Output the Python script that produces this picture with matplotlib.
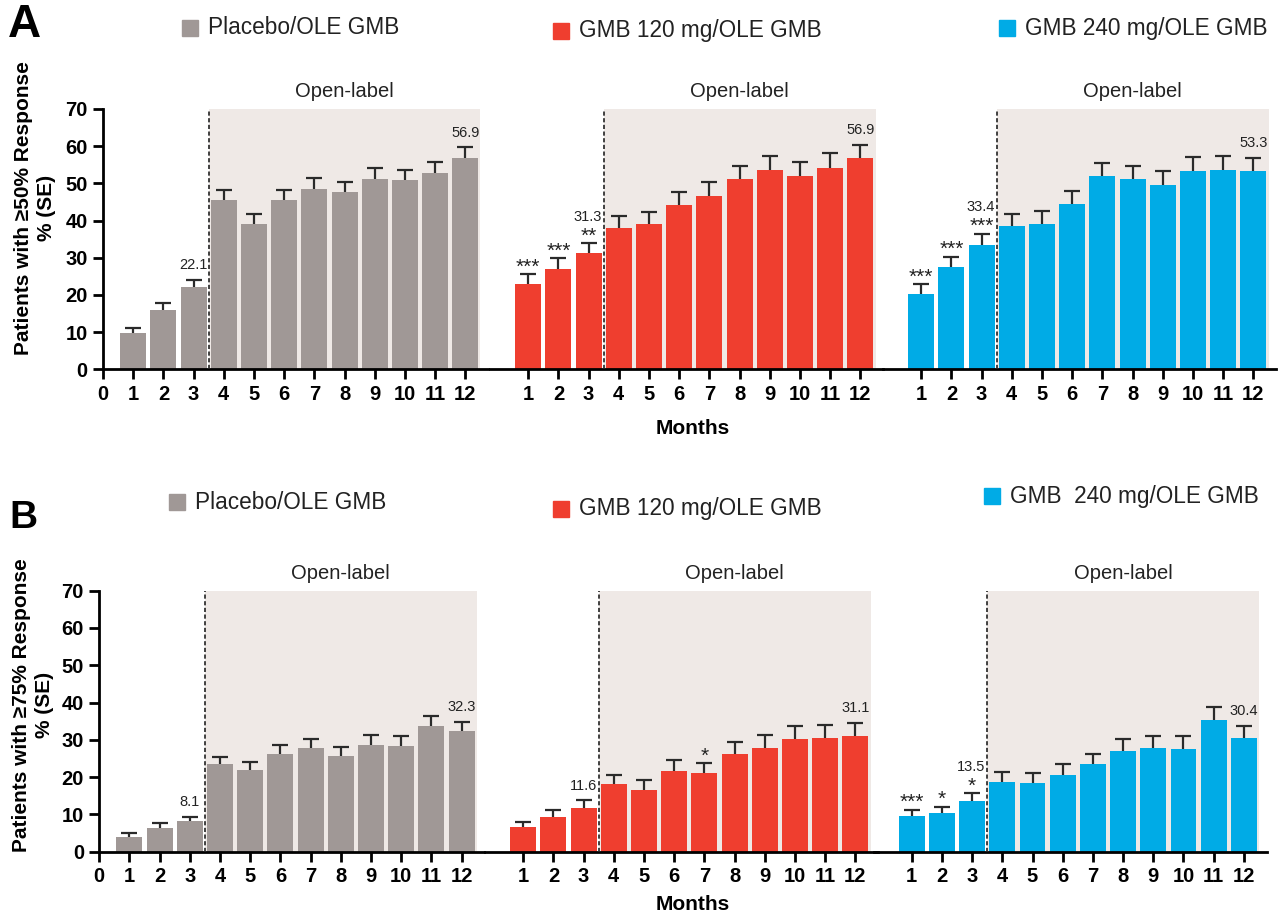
import matplotlib
matplotlib.use("Agg")
import matplotlib.pyplot as plt
import numpy as np

plt.rcParams['font.family'] = ['Liberation Sans', 'DejaVu Sans']

months = list(range(1, 13))
groups = ["Placebo/OLE GMB", "GMB 120 mg/OLE GMB", "GMB 240 mg/OLE GMB"]
groups_b = ["Placebo/OLE GMB", "GMB 120 mg/OLE GMB", "GMB  240 mg/OLE GMB"]
colors = ["#a09896", "#ef3e2f", "#00abe6"]

# Panel A: >=50% response
a_placebo = [9.8, 16.0, 22.1, 45.6, 39.0, 45.6, 48.6, 47.6, 51.2, 51.0, 52.9, 56.9]
a_placebo_se = [1.4, 1.7, 2.0, 2.7, 2.7, 2.7, 2.8, 2.8, 2.8, 2.7, 2.8, 2.8]
a_120 = [22.9, 26.9, 31.3, 37.9, 39.0, 44.2, 46.7, 51.2, 53.7, 52.1, 54.2, 56.9]
a_120_se = [2.7, 2.9, 2.7, 3.2, 3.4, 3.6, 3.6, 3.6, 3.6, 3.7, 3.9, 3.5]
a_240 = [20.3, 27.4, 33.4, 38.5, 39.1, 44.5, 51.9, 51.1, 49.6, 53.2, 53.6, 53.3]
a_240_se = [2.6, 2.9, 3.1, 3.3, 3.4, 3.5, 3.7, 3.6, 3.6, 3.8, 3.7, 3.6]

# Panel B: >=75% response
b_placebo = [4.0, 6.4, 8.1, 23.4, 22.0, 26.3, 27.8, 25.8, 28.7, 28.3, 33.8, 32.3]
b_placebo_se = [0.9, 1.2, 1.3, 2.1, 2.1, 2.4, 2.5, 2.3, 2.5, 2.6, 2.6, 2.6]
b_120 = [6.5, 9.2, 11.6, 18.2, 16.6, 21.7, 21.0, 26.3, 27.9, 30.1, 30.5, 31.1]
b_120_se = [1.4, 1.9, 2.2, 2.5, 2.5, 2.8, 2.8, 3.1, 3.3, 3.6, 3.4, 3.5]
b_240 = [9.5, 10.3, 13.5, 18.8, 18.5, 20.7, 23.4, 27.1, 27.7, 27.6, 35.3, 30.4]
b_240_se = [1.8, 1.8, 2.2, 2.6, 2.7, 2.8, 2.9, 3.1, 3.3, 3.4, 3.6, 3.4]

# significance stars: (month, text)
a_stars = [[], [(1, "***"), (2, "***"), (3, "**")], [(1, "***"), (2, "***"), (3, "***")]]
b_stars = [[], [(7, "*")], [(1, "***"), (2, "*"), (3, "*")]]
# value labels: (month, text)
a_labels = [[(3, "22.1"), (12, "56.9")], [(3, "31.3"), (12, "56.9")], [(3, "33.4"), (12, "53.3")]]
b_labels = [[(3, "8.1"), (12, "32.3")], [(3, "11.6"), (12, "31.1")], [(3, "13.5"), (12, "30.4")]]

W, H = 1281, 917
fig = plt.figure(figsize=(W / 100, H / 100), dpi=100)

SP = 30.2  # px per month

def draw_panel(x0s, y0, y70, vals, ses, stars, labels, ylabel, ylab_xy, leg_pos, leg_names,
               letter, letter_xy, letter_size, months_y):
    for i in range(3):
        xmin = 0 if i == 0 else -0.25
        xmax = 12.75
        left = x0s[i] + xmin * SP
        right = x0s[i] + xmax * SP
        ax = fig.add_axes([left / W, 1 - y0 / H, (right - left) / W, (y0 - y70) / H])
        ax.set_xlim(xmin, xmax)
        ax.set_ylim(0, 70)
        ax.axvspan(3.5, 12.5, ymin=0, ymax=1, color="#efe9e6", zorder=0, lw=0)
        ax.bar(months, vals[i], width=0.86, color=colors[i], zorder=2)
        eb = ax.errorbar(months, vals[i], yerr=[np.zeros(12), ses[i]], fmt='none',
                         ecolor="#2a2a2a", elinewidth=1.6, capsize=5.5, capthick=1.6, zorder=3)
        eb[1][0].set_visible(False)
        ax.axvline(3.5, ymin=0, ymax=1, color="#222222", ls=(0, (2.5, 1.5)), lw=1.2, zorder=4)
        for sp in ["top", "right"]:
            ax.spines[sp].set_visible(False)
        ax.spines["bottom"].set_linewidth(2.0)
        ax.spines["left"].set_linewidth(2.0)
        ax.tick_params(axis='both', direction='out', length=7, width=2.0, labelsize=14.5, pad=4)
        if i == 0:
            ax.set_xticks(range(0, 13))
            ax.set_yticks(range(0, 71, 10))
        else:
            ax.spines["left"].set_visible(False)
            ax.set_xticks(months)
            ax.set_yticks([])
        for lab in ax.get_xticklabels() + ax.get_yticklabels():
            lab.set_fontweight('bold')
        ax.patch.set_alpha(0)
        top = np.array(vals[i]) + np.array(ses[i])
        star_h = {}
        for m, t in stars[i]:
            ax.annotate(t, (m, top[m - 1]), xytext=(0, 1.0), textcoords='offset points',
                        ha='center', va='baseline', fontsize=15, color="#222222", zorder=5)
            star_h[m] = True
        for m, t in labels[i]:
            off = 16 if m in star_h else 7.5
            ax.annotate(t, (m, top[m - 1]), xytext=(-1 if m in star_h else 0, off), textcoords='offset points',
                        ha='center', va='baseline', fontsize=10.5, color="#222222", zorder=5)
        ax.text(8, 70 + 2.2 * 70 / (y0 - y70) * 3.7, "Open-label", ha='center', va='bottom',
                fontsize=14.5, color="#222222")
        # legend entry
        lx, ly = leg_pos[i]
        fig.patches.append(plt.Rectangle(((lx) / W, 1 - (ly + 8) / H), 16 / W, 16 / H,
                                         transform=fig.transFigure, color=colors[i]))
        fig.text((lx + 26) / W, 1 - ly / H, leg_names[i], ha='left', va='center', fontsize=16.3,
                 color="#222222")
    fig.text(ylab_xy[0] / W, 1 - ylab_xy[1] / H, ylabel, rotation=90, ha='center', va='center',
             multialignment='center', fontsize=15, fontweight='bold', linespacing=1.2)
    fig.text(letter_xy[0] / W, 1 - letter_xy[1] / H, letter, fontsize=letter_size, fontweight='bold',
             ha='left', va='center')
    fig.text(693 / W, 1 - months_y / H, "Months", fontsize=15, fontweight='bold', ha='center', va='center')

draw_panel([103, 498, 891], 369.3, 109, [a_placebo, a_120, a_240], [a_placebo_se, a_120_se, a_240_se],
           a_stars, a_labels, "Patients with \u226550% Response\n% (SE)", (35, 208),
           [(182, 28), (553, 31), (999, 28)], groups, "A", (8, 25), 33, 428)
draw_panel([99.2, 493, 881.5], 851.7, 590.7, [b_placebo, b_120, b_240], [b_placebo_se, b_120_se, b_240_se],
           b_stars, b_labels, "Patients with \u226575% Response\n% (SE)", (33, 705),
           [(169, 502), (553, 509), (984, 496)], groups_b, "B", (9, 518), 28, 905)

fig.savefig("out.png", dpi=100)
